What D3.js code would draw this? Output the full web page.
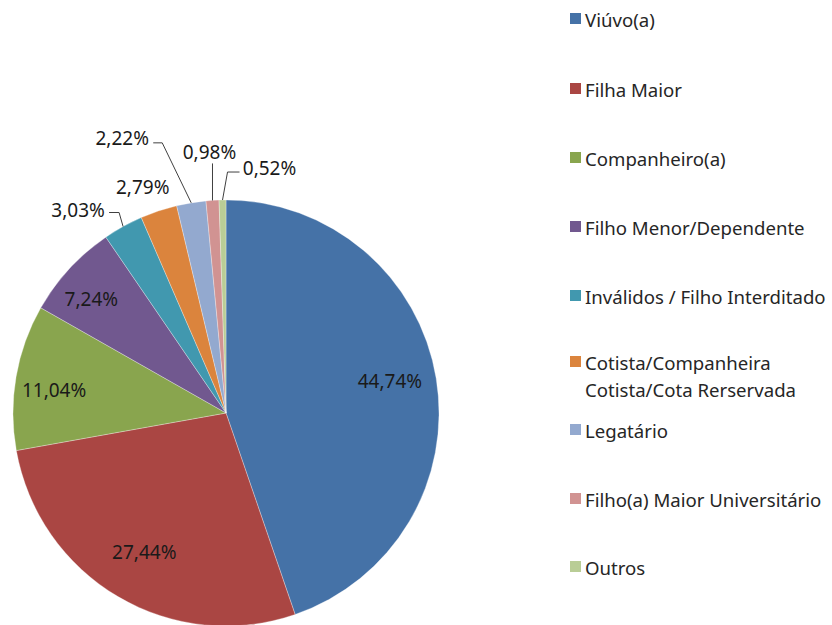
<!DOCTYPE html>
<html>
<head>
<meta charset="utf-8">
<script src="https://cdn.jsdelivr.net/npm/d3@7"></script>
<style>
  body { margin: 0; background: #fff; }
  svg text { font-family: "Noto Sans", "DejaVu Sans", sans-serif; fill: #000; }
</style>
</head>
<body>
<svg id="chart" width="832" height="625"></svg>
<script>
// data
var categories = ["Viúvo(a)", "Filha Maior", "Companheiro(a)", "Filho Menor/Dependente",
  "Inválidos / Filho Interditado", "Cotista/Companheira\nCotista/Cota Rerservada",
  "Legatário", "Filho(a) Maior Universitário", "Outros"];
var values = [44.74, 27.44, 11.04, 7.24, 3.03, 2.79, 2.22, 0.98, 0.52];
var colors = ["#4572A7", "#AA4643", "#89A54E", "#71588F", "#4198AF",
  "#DB843D", "#93A9CF", "#D19392", "#B9CD96"];

var cx = 226, cy = 413, radius = 213;

var svg = d3.select("#chart");
var g = svg.append("g").attr("transform", "translate(" + cx + "," + cy + ")");

var pie = d3.pie().sort(null).value(function(d) { return d; });
var arc = d3.arc().innerRadius(0).outerRadius(radius);
var arcs = pie(values);

g.selectAll("path.slice")
  .data(arcs)
  .enter()
  .append("path")
  .attr("class", "slice")
  .attr("d", arc)
  .attr("fill", function(d, i) { return colors[i]; })
  .attr("stroke", "#ffffff")
  .attr("stroke-opacity", 0.5)
  .attr("stroke-width", 0.6);

var fmt = function(v) { return v.toFixed(2).replace(".", ",") + "%"; };

// point on the rim (or at fraction r of the radius) in the middle of slice i
var rim = function(i, r) {
  var a = (arcs[i].startAngle + arcs[i].endAngle) / 2;
  return [Math.sin(a) * radius * r, -Math.cos(a) * radius * r];
};

// big slices: label inside; small ones: offset from the rim point
var labelPos = [
  {r: 0.78, dx: 0, dy: -5},
  {r: 0.757, dx: 0, dy: 0},
  {r: 0.819, dx: 0, dy: 6},
  {r: 0.84, dx: -3, dy: 7},
  {r: 1, dx: -45, dy: -17},
  {r: 1, dx: -16, dy: -24},
  {r: 1, dx: -69, dy: -65},
  {r: 1, dx: -3, dy: -48},
  {r: 1, dx: 47, dy: -32}
];

arcs.forEach(function(d, i) {
  var p = labelPos[i];
  var c = rim(i, p.r);
  g.append("text")
    .attr("x", c[0] + p.dx)
    .attr("y", c[1] + p.dy)
    .attr("text-anchor", "middle")
    .attr("dominant-baseline", "central")
    .style("font-size", "19px")
    .style("fill", "#1a1a1a")
    .text(fmt(values[i]));
});

// leader lines from the rim to the label
var leaders = [
  {i: 4, pts: [[-4, -14], [-14, -14]]},
  {i: 6, pts: [[-29, -60], [-38, -60]]},
  {i: 7, pts: [[0, -37]]},
  {i: 8, pts: [[5, -28], [17, -28]]}
];
leaders.forEach(function(l) {
  var e = rim(l.i, 1);
  var pts = [e].concat(l.pts.map(function(o) { return [e[0] + o[0], e[1] + o[1]]; }));
  g.append("path")
    .attr("d", d3.line()(pts))
    .attr("fill", "none")
    .attr("stroke", "#404040")
    .attr("stroke-width", 1);
});

// legend
var legendY = [19, 89, 158, 227, 296, 362, 430, 499, 567];
var legend = svg.append("g").attr("transform", "translate(570,0)");
var items = legend.selectAll("g")
  .data(categories)
  .enter()
  .append("g")
  .attr("transform", function(d, i) { return "translate(0," + legendY[i] + ")"; });

items.append("rect")
  .attr("x", 0)
  .attr("y", -6)
  .attr("width", 11)
  .attr("height", 11)
  .attr("fill", function(d, i) { return colors[i]; });

items.append("text")
  .attr("x", 15)
  .attr("y", 0)
  .attr("dominant-baseline", "central")
  .style("font-size", "18.6px")
  .style("fill", "#262626")
  .each(function(d) {
    var lines = d.split("\n");
    var t = d3.select(this);
    lines.forEach(function(s, k) {
      t.append("tspan").attr("x", 15).attr("dy", k === 0 ? 0 : 27).text(s);
    });
  });
</script>
</body>
</html>
